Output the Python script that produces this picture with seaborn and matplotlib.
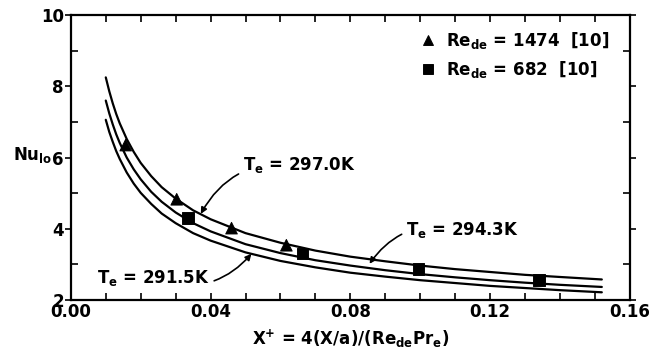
import matplotlib
matplotlib.use("Agg")
import matplotlib.pyplot as plt
from matplotlib.ticker import MultipleLocator
import pandas as pd
import seaborn as sns

# curves (X+, Nu_lo)
x_curve = [0.010, 0.011, 0.012, 0.013, 0.014, 0.016, 0.018, 0.020, 0.023, 0.026, 0.030,
           0.035, 0.040, 0.050, 0.060, 0.070, 0.080, 0.090, 0.100, 0.110, 0.120, 0.130,
           0.140, 0.152]
nu_297 = [8.25, 7.86, 7.52, 7.22, 6.96, 6.52, 6.16, 5.85, 5.48, 5.17, 4.85,
          4.52, 4.27, 3.88, 3.61, 3.39, 3.22, 3.09, 2.97, 2.87, 2.79, 2.71,
          2.65, 2.58]
nu_294 = [7.60, 7.24, 6.93, 6.65, 6.41, 6.00, 5.67, 5.39, 5.04, 4.76, 4.46,
          4.16, 3.93, 3.57, 3.32, 3.12, 2.97, 2.84, 2.73, 2.64, 2.56, 2.49,
          2.43, 2.37]
nu_291 = [7.06, 6.72, 6.44, 6.18, 5.96, 5.58, 5.27, 5.01, 4.70, 4.43, 4.16,
          3.88, 3.67, 3.34, 3.10, 2.92, 2.77, 2.66, 2.56, 2.48, 2.40, 2.34,
          2.28, 2.22]

# data points from [10]
x_tri = [0.0157, 0.0303, 0.046, 0.0617]
nu_tri = [6.35, 4.83, 4.02, 3.54]
x_sq = [0.0335, 0.0663, 0.0995, 0.134]
nu_sq = [4.30, 3.31, 2.87, 2.56]

sns.set_style("ticks")
plt.rcParams["font.family"] = ["DejaVu Sans"]
plt.rcParams["font.weight"] = "bold"
plt.rcParams["axes.labelweight"] = "bold"
plt.rcParams["mathtext.fontset"] = "custom"
plt.rcParams["mathtext.rm"] = "DejaVu Sans:bold"
plt.rcParams["mathtext.default"] = "rm"
for k in ["text.color", "axes.labelcolor", "xtick.color", "ytick.color", "axes.edgecolor"]:
    plt.rcParams[k] = "black"

fig = plt.figure(figsize=(6.56, 3.49), dpi=100)
ax = fig.add_axes([0.108, 0.140, 0.852, 0.817])

curves = pd.concat([
    pd.DataFrame({"x": x_curve, "nu": nu_297, "Te": "297.0"}),
    pd.DataFrame({"x": x_curve, "nu": nu_294, "Te": "294.3"}),
    pd.DataFrame({"x": x_curve, "nu": nu_291, "Te": "291.5"}),
])
sns.lineplot(data=curves, x="x", y="nu", units="Te", estimator=None, color="black",
             linewidth=1.6, ax=ax, legend=False)

pts = pd.concat([
    pd.DataFrame({"x": x_tri, "nu": nu_tri, "src": r"Re$_{de}$ = 1474  [10]"}),
    pd.DataFrame({"x": x_sq, "nu": nu_sq, "src": r"Re$_{de}$ = 682  [10]"}),
])
sns.scatterplot(data=pts, x="x", y="nu", style="src", markers=["^", "s"], color="black",
                s=70, edgecolor="black", ax=ax, zorder=3)
ax.legend(loc="upper right", frameon=False, fontsize=12, handletextpad=0.1,
          borderaxespad=0.5, labelspacing=0.45, markerscale=0.8,
          bbox_to_anchor=(0.99, 1.0))

ax.set_xlim(0, 0.16)
ax.set_ylim(2, 10)
ax.xaxis.set_major_locator(MultipleLocator(0.04))
ax.xaxis.set_minor_locator(MultipleLocator(0.01))
ax.yaxis.set_major_locator(MultipleLocator(2))
ax.yaxis.set_minor_locator(MultipleLocator(1))
ax.xaxis.set_major_formatter(plt.FuncFormatter(lambda v, p: f"{v:.2f}"))
ax.tick_params(axis="x", which="both", direction="in", top=True, length=5, width=1.2,
               labelsize=12, pad=2)
ax.tick_params(axis="y", which="major", direction="out", length=4, width=1.2, labelsize=12, pad=1)
ax.tick_params(axis="y", which="minor", direction="in", right=True, length=5, width=1.2)
ax.tick_params(axis="y", which="major", right=True)
for s in ax.spines.values():
    s.set_linewidth(1.6)

ax.set_xlabel(r"X$^{+}$ = 4(X/a)/(Re$_{de}$Pr$_{e}$)", fontsize=12, labelpad=5)
ax.set_ylabel(r"Nu$_{lo}$", fontsize=12, rotation=0)
ax.yaxis.set_label_coords(-0.068, 0.475)

akw = dict(fontsize=12, va="center", ha="left")
arrow = dict(arrowstyle="-|>", color="black", lw=1.2, mutation_scale=9,
             connectionstyle="arc3,rad=0.35", shrinkA=1, shrinkB=0)
ax.annotate(r"T$_{e}$ = 297.0K", xy=(0.0372, 4.42), xytext=(0.0493, 5.78), arrowprops=arrow, **akw)
ax.annotate(r"T$_{e}$ = 294.3K", xy=(0.0855, 3.02), xytext=(0.0960, 3.97), arrowprops=arrow, **akw)
ax.annotate(r"T$_{e}$ = 291.5K", xy=(0.0517, 3.30), xytext=(0.0074, 2.62), arrowprops=arrow, **akw)

fig.savefig("out.png", dpi=100)
